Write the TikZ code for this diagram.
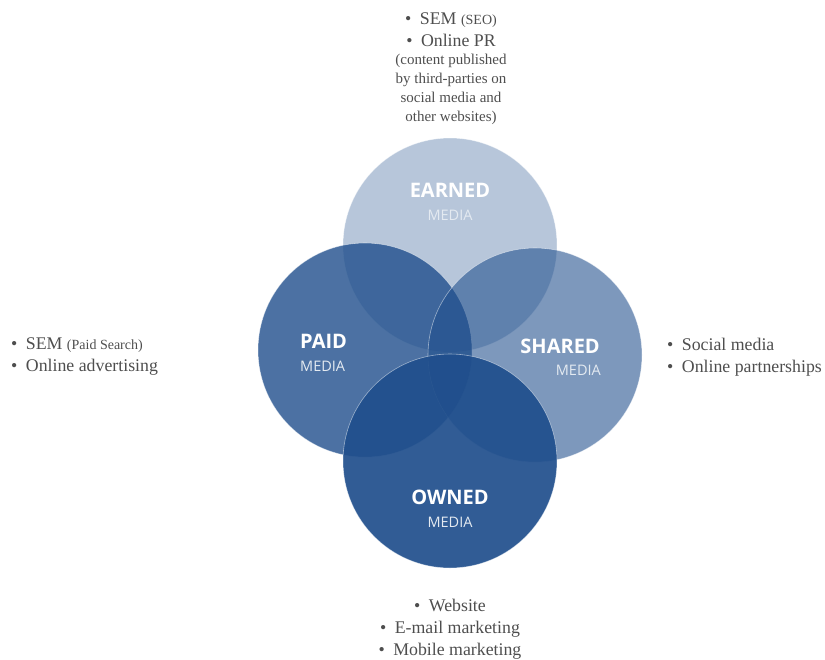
\documentclass[tikz,border=0pt]{standalone}
\usepackage{fontspec}
\setmainfont{Liberation Serif}
\newfontfamily\headfont{Open Sans}
\usetikzlibrary{positioning}
\definecolor{mediablue}{RGB}{31,78,140}
\definecolor{listgray}{RGB}{78,78,78}
\tikzset{sphere/.style={circle, minimum size=214pt, inner sep=0pt, fill=mediablue, draw=white, draw opacity=.5, line width=.6pt},
	head/.style={text=white, inner sep=0pt, font=\headfont\bfseries\fontsize{20}{22}\selectfont},
	sub/.style={text=white!88!mediablue, inner sep=0pt, font=\headfont\fontsize{14.5}{17}\selectfont},
	items/.style={text=listgray, inner sep=0pt, font=\fontsize{17.8}{21.8}\selectfont},
	small/.style={text=listgray, inner sep=0pt, align=center, font=\fontsize{15}{19}\selectfont}}
\newcommand{\itm}{\textbullet\hspace{8.5pt}}

\begin{document}
\begin{tikzpicture}[x=1pt,y=-1pt]
		\useasboundingbox (0,0) rectangle (825,659);
		% the four media circles
		\node[sphere, fill opacity=.32] (earned) at (450,245) {};
		\node[sphere, fill opacity=.8] (paid) at (365,350) {};
		\node[sphere, fill opacity=.58] (shared) at (535,355) {};
		\node[sphere, fill opacity=.92] (owned) at (450,461) {};
		% circle titles
		\node[head] (earnedT) at (450,190) {EARNED};
		\node[sub] (earnedS) at (450,215) {MEDIA};
		\node[head, anchor=west] (paidT) at (300,341) {PAID};
		\node[sub, anchor=west] (paidS) at (300,366) {MEDIA};
		\node[head, anchor=east] (sharedT) at (600,346) {SHARED};
		\node[sub, anchor=east] (sharedS) at (601,370) {MEDIA};
		\node[head] (ownedT) at (450,497) {OWNED};
		\node[sub] (ownedS) at (450,522) {MEDIA};
		% channel lists
		\node[items, align=center, anchor=north] (earnedL) at (451,13) {\itm SEM {\fontsize{14}{16}\selectfont(SEO)}\\ \itm Online PR};
		\node[small, below=7pt of earnedL] (earnedN) {(content published\\ by third-parties on\\ social media and\\ other websites)};
		\node[items, align=left, anchor=west] (paidL) at (11,356.5) {\itm SEM {\fontsize{14}{16}\selectfont(Paid Search)}\\ \itm Online advertising};
		\node[items, align=left, anchor=west] (sharedL) at (667,357) {\itm Social media\\ \itm Online partnerships};
		\node[items, align=center] (ownedL) at (450,629.5) {\itm Website\\ \itm E-mail marketing\\ \itm Mobile marketing};
\end{tikzpicture}
\end{document}
